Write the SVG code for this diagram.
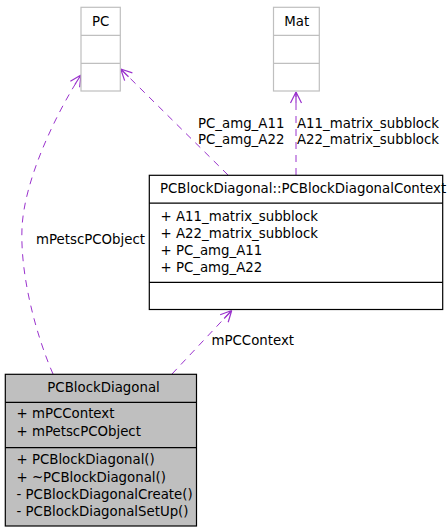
<svg xmlns="http://www.w3.org/2000/svg" width="448" height="531" viewBox="0 0 448 531">
<style>
text{font-family:"DejaVu Sans","Liberation Sans",sans-serif;font-size:13.33px;fill:#000}
.ext rect,.ext line{stroke:#bfbfbf;stroke-width:1.2;fill:#fff}
.cls rect,.cls line{stroke:#000;stroke-width:1.2;fill:#fff}
.main rect{fill:#bfbfbf}
.edge{fill:none;stroke:#9a32cd;stroke-width:1;stroke-dasharray:7,6}
</style>
<defs>
<marker id="arr" markerUnits="userSpaceOnUse" markerWidth="24" markerHeight="24" refX="12" refY="12" orient="auto" viewBox="0 0 24 24">
<path d="M12,12 L1,6.5 M12,12 L1,17.5 M12,12 L1,12" fill="none" stroke="#9a32cd" stroke-width="1.2"/>
</marker>
</defs>
<g id="connectors">
<path class="edge" d="M53,374 C36,335 20,275 22,228 C24,181 55,115 81,75" marker-end="url(#arr)"/>
<path class="edge" d="M228,175 L120.7,69" marker-end="url(#arr)"/>
<path class="edge" d="M296,175 L296,92" marker-end="url(#arr)"/>
<path class="edge" d="M172,374 L231.7,310.5" marker-end="url(#arr)"/>
<text x="36" y="244">mPetscPCObject</text>
<text x="198" y="127.5">PC_amg_A11</text>
<text x="198" y="144">PC_amg_A22</text>
<text x="297" y="127.5">A11_matrix_subblock</text>
<text x="297" y="144">A22_matrix_subblock</text>
<text x="211.5" y="344.5">mPCContext</text>
</g>
<g id="PC" class="ext">
<rect x="81" y="7.3" width="39.3" height="83.7"/>
<line x1="81" y1="35.3" x2="120.3" y2="35.3"/>
<line x1="81" y1="63.3" x2="120.3" y2="63.3"/>
<text x="92" y="25.7">PC</text>
</g>
<g id="Mat" class="ext">
<rect x="273.5" y="7.3" width="45.8" height="83.7"/>
<line x1="273.5" y1="35.3" x2="319.3" y2="35.3"/>
<line x1="273.5" y1="63.3" x2="319.3" y2="63.3"/>
<text x="284.3" y="25.7">Mat</text>
</g>
<g id="PCBlockDiagonalContext" class="cls">
<rect x="149.3" y="175.3" width="293.4" height="134.2"/>
<line x1="149.3" y1="203.2" x2="442.7" y2="203.2"/>
<line x1="149.3" y1="282.3" x2="442.7" y2="282.3"/>
<text x="160" y="193.3">PCBlockDiagonal::PCBlockDiagonalContext</text>
<text x="160.5" y="221">+ A11_matrix_subblock</text>
<text x="160.5" y="238">+ A22_matrix_subblock</text>
<text x="160.5" y="255">+ PC_amg_A11</text>
<text x="160.5" y="272">+ PC_amg_A22</text>
</g>
<g id="PCBlockDiagonal" class="cls main">
<rect x="5.3" y="374.3" width="191.2" height="151.7"/>
<line x1="5.3" y1="402.3" x2="196.5" y2="402.3"/>
<line x1="5.3" y1="447.7" x2="196.5" y2="447.7"/>
<text x="47.3" y="391.7">PCBlockDiagonal</text>
<text x="16.5" y="418.3">+ mPCContext</text>
<text x="16.5" y="435.5">+ mPetscPCObject</text>
<text x="16.5" y="464">+ PCBlockDiagonal()</text>
<text x="16.5" y="481.5">+ ~PCBlockDiagonal()</text>
<text x="16.5" y="498.7">- PCBlockDiagonalCreate()</text>
<text x="16.5" y="515.7">- PCBlockDiagonalSetUp()</text>
</g>
</svg>
